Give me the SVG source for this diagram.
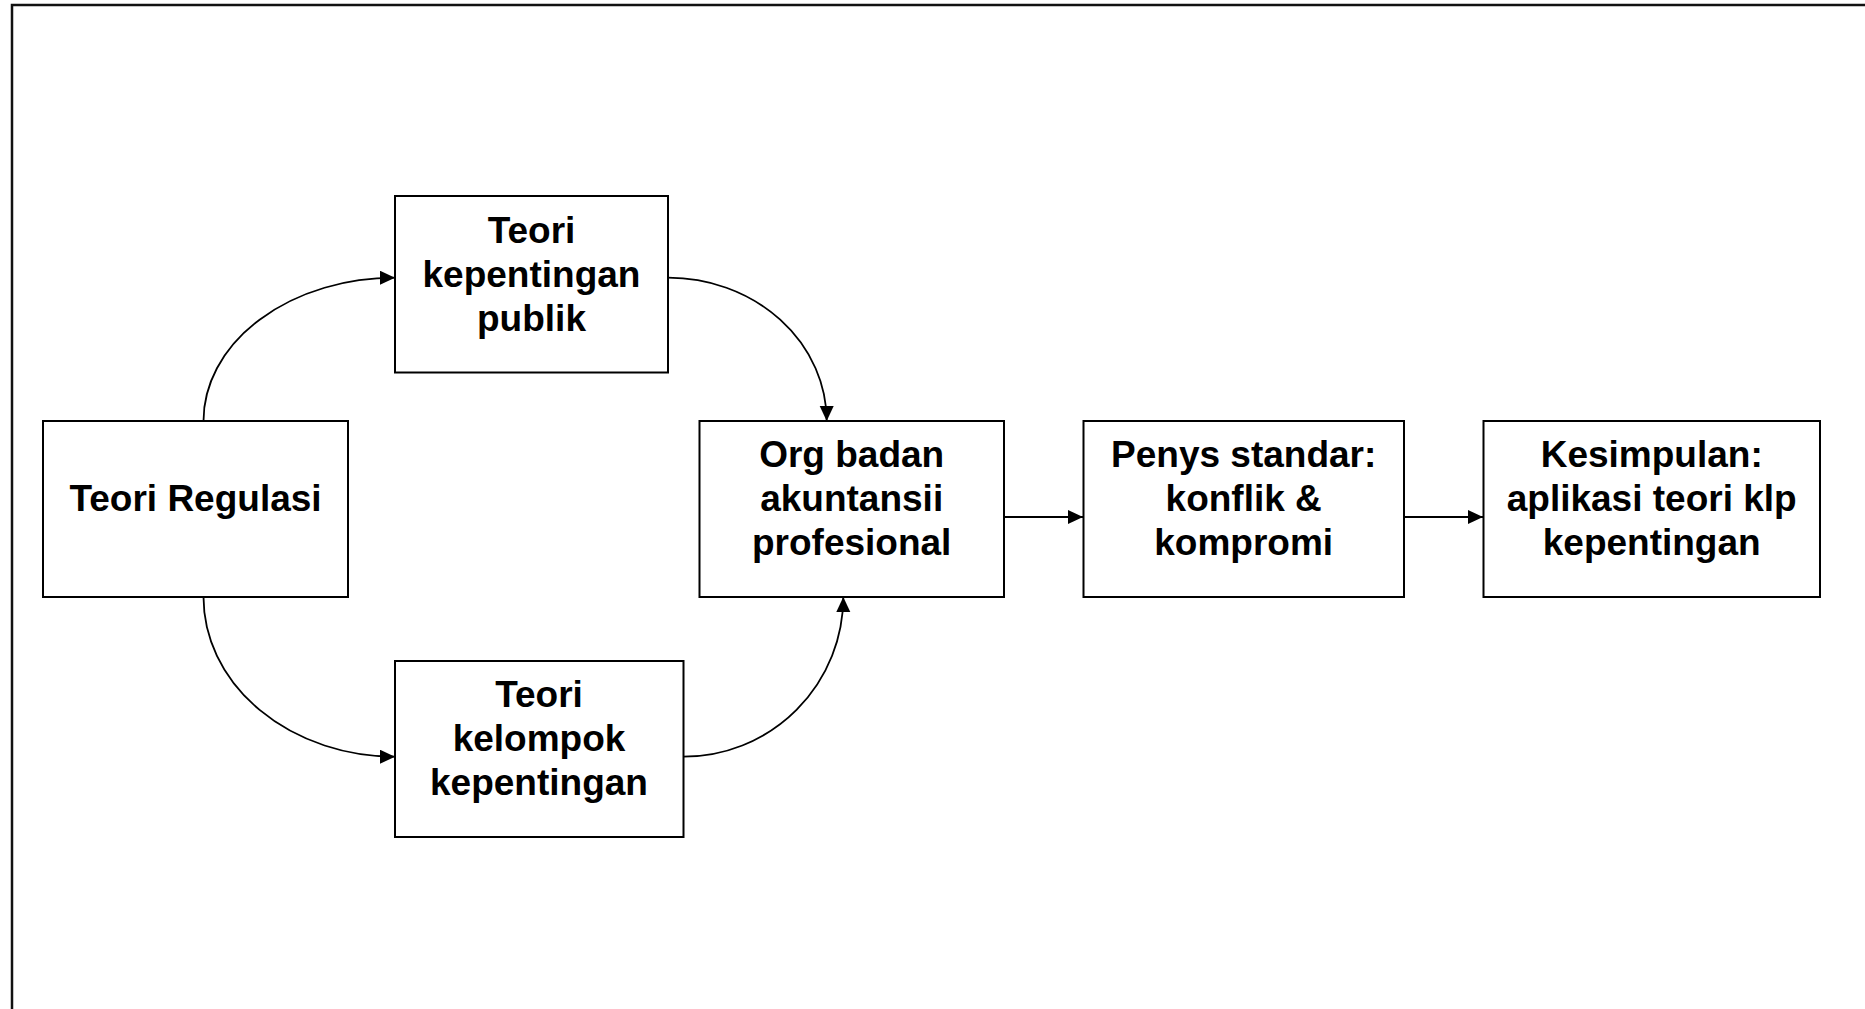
<svg xmlns="http://www.w3.org/2000/svg" width="1865" height="1009" viewBox="0 0 1865 1009">
  <style>
    .box { fill: #ffffff; stroke: #000000; stroke-width: 2; }
    .lbl { font-family: "Liberation Sans", Arial, sans-serif; font-weight: bold; font-size: 37px; fill: #000000; text-anchor: middle; }
    .conn { fill: none; stroke: #000000; stroke-width: 1.8; marker-end: url(#arrow); }
    .frame { fill: none; stroke: #111111; stroke-width: 2.5; }
  </style>
  <defs>
    <marker id="arrow" markerUnits="userSpaceOnUse" markerWidth="16" markerHeight="16" refX="15" refY="7" orient="auto">
      <path d="M0,0 L15,7 L0,14 z" fill="#000000"/>
    </marker>
  </defs>

  <rect width="1865" height="1009" fill="#ffffff"/>
  <!-- slide frame, open to the right and bottom -->
  <rect class="frame" x="12" y="5" width="1880" height="1030"/>

  <g id="connectors">
    <path class="conn" d="M203.5,421 A191.5,143.3 0 0 1 395,277.7"/>
    <path class="conn" d="M203.5,597 A191.5,159.7 0 0 0 395,756.7"/>
    <path class="conn" d="M668,277.7 A158.7,143.3 0 0 1 826.7,421"/>
    <path class="conn" d="M683.5,756.7 A159.8,159.7 0 0 0 843.3,597"/>
    <path class="conn" d="M1004,517 H1083"/>
    <path class="conn" d="M1404,517 H1483"/>
  </g>

  <g id="teori-regulasi">
    <rect class="box" x="43" y="421" width="305" height="176"/>
    <text class="lbl" x="195.5" y="511">Teori Regulasi</text>
  </g>

  <g id="teori-kepentingan-publik">
    <rect class="box" x="395" y="196" width="273" height="176.5"/>
    <text class="lbl" x="531.5" y="243">Teori</text>
    <text class="lbl" x="531.5" y="287">kepentingan</text>
    <text class="lbl" x="531.5" y="331">publik</text>
  </g>

  <g id="teori-kelompok-kepentingan">
    <rect class="box" x="395" y="661" width="288.5" height="176"/>
    <text class="lbl" x="539" y="707">Teori</text>
    <text class="lbl" x="539" y="751">kelompok</text>
    <text class="lbl" x="539" y="795">kepentingan</text>
  </g>

  <g id="org-badan">
    <rect class="box" x="699.5" y="421" width="304.5" height="176"/>
    <text class="lbl" x="851.7" y="467">Org badan</text>
    <text class="lbl" x="851.7" y="511">akuntansii</text>
    <text class="lbl" x="851.7" y="555">profesional</text>
  </g>

  <g id="penys-standar">
    <rect class="box" x="1083.5" y="421" width="320.5" height="176"/>
    <text class="lbl" x="1243.7" y="467">Penys standar:</text>
    <text class="lbl" x="1243.7" y="511">konflik &amp;</text>
    <text class="lbl" x="1243.7" y="555">kompromi</text>
  </g>

  <g id="kesimpulan">
    <rect class="box" x="1483.5" y="421" width="336.5" height="176"/>
    <text class="lbl" x="1651.7" y="467">Kesimpulan:</text>
    <text class="lbl" x="1651.7" y="511">aplikasi teori klp</text>
    <text class="lbl" x="1651.7" y="555">kepentingan</text>
  </g>
</svg>
